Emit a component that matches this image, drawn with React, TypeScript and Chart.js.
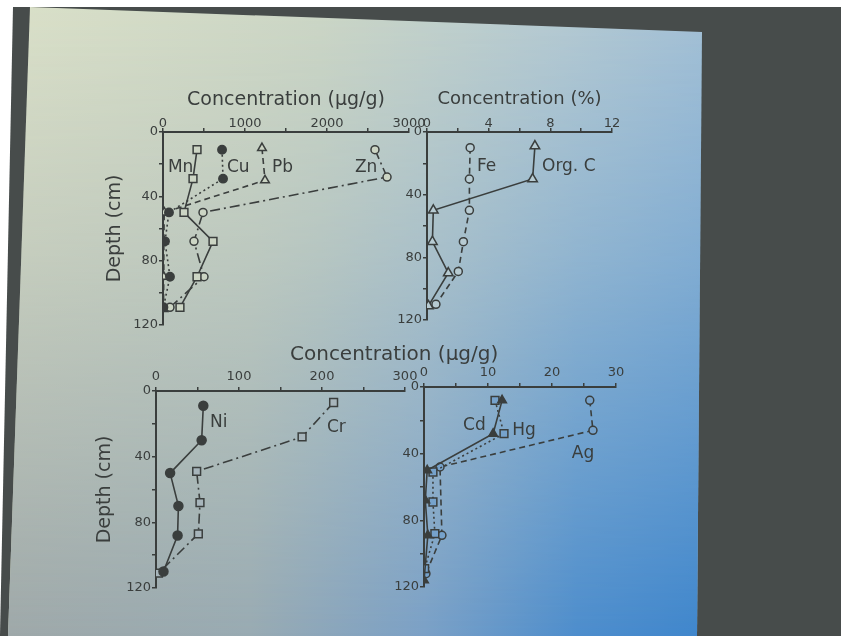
import React, { useEffect, useRef } from 'react';
import { Chart, registerables } from 'chart.js';

Chart.register(...registerables);

// ---------- data (depth in cm, concentration) ----------
// Top-left panel, µg/g
const mnDepth = [11, 29, 50, 68, 90, 109];
const mnConc = [415, 366, 256, 610, 415, 207];
const cuDepth = [11, 29, 50, 68, 90, 109];
const cuConc = [720, 732, 73, 24, 85, 5];
const pbDepth = [10, 30, 50, 68, 90, 110];
const pbConc = [1207, 1244, 15, 10, 10, 5];
const znDepth = [11, 28, 50, 68, 90, 109];
const znConc = [2585, 2732, 488, 378, 500, 85];

// Top-right panel, %
const feDepth = [10, 30, 50, 70, 89, 110];
const feConc = [2.8, 2.75, 2.75, 2.36, 2.03, 0.58];
const orgCDepth = [9, 30, 50, 70, 90, 111];
const orgCConc = [7.0, 6.85, 0.41, 0.35, 1.38, 0.09];

// Bottom-left panel, µg/g
const niDepth = [9, 30, 50, 70, 88, 110];
const niConc = [57, 55, 17, 27, 26, 9];
const crDepth = [7, 28, 49, 68, 87, 111];
const crConc = [214, 176, 49, 53, 51, 3];

// Bottom-right panel, µg/g
const cdDepth = [8, 28, 50, 68, 89, 116];
const cdConc = [12.2, 10.8, 0.5, 0.2, 0.6, 0];
const hgDepth = [8, 28, 51, 69, 88, 109];
const hgConc = [11.1, 12.5, 1.4, 1.4, 1.7, 0.1];
const agDepth = [8, 26, 48, 89, 112];
const agConc = [25.9, 26.4, 2.5, 2.8, 0.3];

// tick labels
const depthLabels = [0, 40, 80, 120];
const tlXLabels = [0, 1000, 2000, 3000];
const trXLabels = [0, 4, 8, 12];
const blXLabels = [0, 100, 200, 300];
const brXLabels = [0, 10, 20, 30];

// series name labels (placed in data units)
const tlNotes = [
  { text: 'Mn', x: 60, y: 22 },
  { text: 'Cu', x: 780, y: 22 },
  { text: 'Pb', x: 1330, y: 22 },
  { text: 'Zn', x: 2340, y: 22 },
];
const trNotes = [
  { text: 'Fe', x: 3.24, y: 22.3 },
  { text: 'Org. C', x: 7.46, y: 22.3 },
];
const blNotes = [
  { text: 'Ni', x: 65, y: 19 },
  { text: 'Cr', x: 206, y: 22 },
];
const brNotes = [
  { text: 'Cd', x: 6.1, y: 23.4 },
  { text: 'Hg', x: 13.8, y: 26 },
  { text: 'Ag', x: 23.1, y: 40 },
];

// ---------- styling ----------
const FONT = '"DejaVu Sans", "Liberation Sans", sans-serif';
const INK = '#3a3e3d';
const DOTTED = [2, 3];
const DASHED = [6, 4];
const DASHDOT = [10, 4, 2, 4];
const SOLID: number[] = [];

type Series = {
  depth: number[];
  conc: number[];
  style: 'circle' | 'rect' | 'triangle';
  filled: boolean;
  dash: number[];
  radius: number;
};

type Panel = {
  left: number; top: number; right: number; bottom: number;
  yW: number; xH: number; padR: number; padB: number;
  xMax: number; xStep: number; xLabels: number[];
  xTitle?: string; xTitleSize?: number; yTitle?: string;
  tickPad: number;
  fill: string;
  series: Series[];
  notes: { text: string; x: number; y: number }[];
};

const panels: Panel[] = [
  {
    left: 163, top: 132, right: 409, bottom: 325, yW: 63, xH: 47, padR: 24, padB: 10,
    xMax: 3000, xStep: 500, xLabels: tlXLabels, xTitle: 'Concentration (µg/g)', xTitleSize: 19,
    yTitle: 'Depth (cm)', tickPad: -3, fill: '#ccd5c4',
    series: [
      { depth: mnDepth, conc: mnConc, style: 'rect', filled: false, dash: SOLID, radius: 5.5 },
      { depth: cuDepth, conc: cuConc, style: 'circle', filled: true, dash: DOTTED, radius: 4.2 },
      { depth: pbDepth, conc: pbConc, style: 'triangle', filled: false, dash: DASHED, radius: 5 },
      { depth: znDepth, conc: znConc, style: 'circle', filled: false, dash: DASHDOT, radius: 4 },
    ],
    notes: tlNotes,
  },
  {
    left: 427, top: 132, right: 612, bottom: 320, yW: 30, xH: 47, padR: 20, padB: 10,
    xMax: 12, xStep: 2, xLabels: trXLabels, xTitle: 'Concentration (%)', xTitleSize: 18,
    tickPad: -3, fill: '#b7cbd2',
    series: [
      { depth: feDepth, conc: feConc, style: 'circle', filled: false, dash: DASHED, radius: 4 },
      { depth: orgCDepth, conc: orgCConc, style: 'triangle', filled: false, dash: SOLID, radius: 5.5 },
    ],
    notes: trNotes,
  },
  {
    left: 156, top: 391, right: 405, bottom: 588, yW: 66, xH: 28, padR: 24, padB: 10,
    xMax: 300, xStep: 50, xLabels: blXLabels, yTitle: 'Depth (cm)', tickPad: 3, fill: '#a7b5bb',
    series: [
      { depth: niDepth, conc: niConc, style: 'circle', filled: true, dash: SOLID, radius: 4.5 },
      { depth: crDepth, conc: crConc, style: 'rect', filled: false, dash: DASHDOT, radius: 5.5 },
    ],
    notes: blNotes,
  },
  {
    left: 424, top: 387, right: 616, bottom: 587, yW: 30, xH: 28, padR: 20, padB: 10,
    xMax: 30, xStep: 5, xLabels: brXLabels, tickPad: 3, fill: '#76a2cb',
    series: [
      { depth: cdDepth, conc: cdConc, style: 'triangle', filled: true, dash: SOLID, radius: 5 },
      { depth: hgDepth, conc: hgConc, style: 'rect', filled: false, dash: DOTTED, radius: 5.5 },
      { depth: agDepth, conc: agConc, style: 'circle', filled: false, dash: DASHED, radius: 4 },
    ],
    notes: brNotes,
  },
];

function PanelChart({ p }: { p: Panel }) {
  const ref = useRef<HTMLCanvasElement | null>(null);
  const width = p.yW + (p.right - p.left) + p.padR;
  const height = p.xH + (p.bottom - p.top) + p.padB;

  useEffect(() => {
    if (!ref.current) return;
    const notesPlugin = {
      id: 'notes',
      afterDatasetsDraw(chart: any) {
        const { ctx, scales } = chart;
        ctx.save();
        ctx.fillStyle = INK;
        ctx.font = `17px ${FONT}`;
        ctx.textAlign = 'left';
        ctx.textBaseline = 'middle';
        p.notes.forEach((n) => {
          ctx.fillText(n.text, scales.x.getPixelForValue(n.x), scales.y.getPixelForValue(n.y));
        });
        ctx.restore();
      },
    };
    const chart = new Chart(ref.current, {
      type: 'scatter',
      data: {
        datasets: p.series.map((s) => ({
          data: s.depth.map((d, i) => ({ x: s.conc[i], y: d })),
          showLine: true,
          borderColor: INK,
          borderWidth: 1.6,
          borderDash: s.dash,
          backgroundColor: s.filled ? INK : p.fill,
          pointStyle: s.style,
          pointRadius: s.radius,
          pointBorderWidth: 1.5,
          pointBorderColor: INK,
          pointBackgroundColor: s.filled ? INK : p.fill,
          tension: 0,
        })),
      },
      options: {
        animation: false,
        responsive: false,
        devicePixelRatio: 1,
        events: [],
        layout: { padding: { left: 0, top: 0, right: p.padR, bottom: p.padB } },
        plugins: { legend: { display: false }, tooltip: { enabled: false } },
        scales: {
          x: {
            type: 'linear',
            position: 'top',
            min: 0,
            max: p.xMax,
            ticks: {
              stepSize: p.xStep,
              autoSkip: false,
              maxRotation: 0,
              color: INK,
              padding: p.tickPad,
              font: { family: FONT, size: 13 },
              callback: (v: any) => (p.xLabels.includes(Number(v)) ? String(v) : ''),
            },
            grid: { drawOnChartArea: false, drawTicks: true, tickLength: 4, color: INK, lineWidth: 1.5 },
            border: { display: true, color: INK, width: 2 },
            title: p.xTitle
              ? { display: true, text: p.xTitle, color: INK, font: { family: FONT, size: p.xTitleSize }, padding: { top: 4, bottom: 0 } }
              : { display: false },
            afterFit: (s: any) => { s.height = p.xH; },
          },
          y: {
            type: 'linear',
            reverse: true,
            min: 0,
            max: 120,
            ticks: {
              stepSize: 20,
              autoSkip: false,
              color: INK,
              padding: 1,
              font: { family: FONT, size: 13 },
              callback: (v: any) => (depthLabels.includes(Number(v)) ? String(v) : ''),
            },
            grid: { drawOnChartArea: false, drawTicks: true, tickLength: 4, color: INK, lineWidth: 1.5 },
            border: { display: true, color: INK, width: 2 },
            title: p.yTitle
              ? { display: true, text: p.yTitle, color: INK, font: { family: FONT, size: 19 }, padding: { top: 4, bottom: 0 } }
              : { display: false },
            afterFit: (s: any) => { s.width = p.yW; },
          },
        },
      } as any,
      plugins: [notesPlugin],
    });
    return () => chart.destroy();
  }, []);

  return (
    <canvas
      ref={ref}
      width={width}
      height={height}
      style={{ position: 'absolute', left: p.left - p.yW, top: p.top - p.xH, width, height }}
    />
  );
}

export default function App() {
  const slideClip = 'polygon(22px 7px, 694px 32px, 689px 636px, 0px 636px)';
  return (
    <div style={{ position: 'absolute', left: 0, top: 0, width: 841, height: 636, background: '#ffffff', overflow: 'hidden' }}>
      <div style={{ position: 'absolute', left: 0, top: 0, width: 841, height: 636, background: '#474c4b', clipPath: 'polygon(13px 7px, 841px 7px, 841px 636px, 0px 636px)' }} />
      <div style={{ position: 'absolute', left: 8, top: 0, width: 694, height: 636, clipPath: slideClip,
        background: 'linear-gradient(to right, #dbe1c9 0%, #cdd7c6 45%, #b7cbd2 80%, #a6c2d6 100%)' }} />
      <div style={{ position: 'absolute', left: 8, top: 0, width: 694, height: 636, clipPath: slideClip,
        background: 'linear-gradient(to right, #9ea8a9 0%, #98aab2 35%, #7aa0c6 60%, #4d8dcc 82%, #3f86cc 100%)',
        WebkitMaskImage: 'linear-gradient(to bottom, rgba(0,0,0,0) 0%, rgba(0,0,0,0.35) 40%, rgba(0,0,0,1) 100%)',
        maskImage: 'linear-gradient(to bottom, rgba(0,0,0,0) 0%, rgba(0,0,0,0.35) 40%, rgba(0,0,0,1) 100%)' } as any} />
      {panels.map((p, i) => <PanelChart key={i} p={p} />)}
      <div style={{ position: 'absolute', left: 290, top: 341, fontFamily: FONT, fontSize: 20, lineHeight: '24px', color: INK, whiteSpace: 'nowrap' }}>
        Concentration (µg/g)
      </div>
    </div>
  );
}
